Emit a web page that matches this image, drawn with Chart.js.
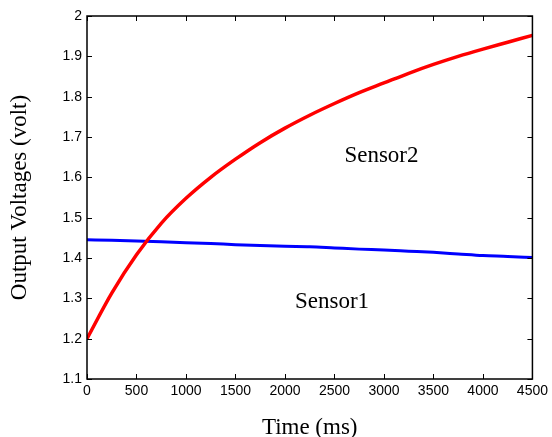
<!DOCTYPE html>
<html>
<head>
<meta charset="utf-8">
<script src="https://cdn.jsdelivr.net/npm/chart.js@4.4.1/dist/chart.umd.min.js"></script>
<style>
    html, body { margin: 0; padding: 0; background: #fff; }
    #chart { display: block; }
</style>
</head>
<body>
<canvas id="chart" width="552" height="437"></canvas>
<script>
// Sample times (ms)
const timeMs = [0, 250, 500, 750, 1000, 1250, 1500, 1750, 2000, 2250,
                2500, 2750, 3000, 3250, 3500, 3750, 4000, 4250, 4500];

// Sensor2 (red)
const sensor2 = [1.200, 1.313, 1.408, 1.486, 1.548, 1.600, 1.645, 1.686, 1.722, 1.754,
                 1.783, 1.810, 1.834, 1.858, 1.880, 1.900, 1.918, 1.935, 1.952];

// Sensor1 (blue)
const sensor1 = [1.445, 1.444, 1.442, 1.440, 1.438, 1.436, 1.433, 1.431, 1.429, 1.428,
                 1.425, 1.422, 1.420, 1.417, 1.414, 1.410, 1.406, 1.404, 1.401];

// Axis ticks
const xTicks = [0, 500, 1000, 1500, 2000, 2500, 3000, 3500, 4000, 4500];
const xTickLabels = ['0', '500', '1000', '1500', '2000', '2500', '3000', '3500', '4000', '4500'];
const yTicks = [1.1, 1.2, 1.3, 1.4, 1.5, 1.6, 1.7, 1.8, 1.9, 2.0];
const yTickLabels = ['1.1', '1.2', '1.3', '1.4', '1.5', '1.6', '1.7', '1.8', '1.9', '2'];

// Text labels inside the plot (data coordinates)
const curveNames = ['Sensor2', 'Sensor1'];
const curveNameAt = [[2975, 1.653], [2475, 1.291]];

const toPoints = ys => ys.map((v, i) => ({ x: timeMs[i], y: v }));

// Box with inward ticks, MATLAB style
const boxPlugin = {
    id: 'boxPlugin',
    afterDatasetsDraw(chart) {
        const { ctx, chartArea: a, scales: { x, y } } = chart;
        ctx.save();
        ctx.strokeStyle = '#000';
        ctx.lineWidth = 1;
        ctx.beginPath();
        xTicks.forEach(v => {
            const px = Math.round(x.getPixelForValue(v)) + 0.5;
            ctx.moveTo(px, a.bottom); ctx.lineTo(px, a.bottom - 5);
            ctx.moveTo(px, a.top); ctx.lineTo(px, a.top + 5);
        });
        yTicks.forEach(v => {
            const py = Math.round(y.getPixelForValue(v)) + 0.5;
            ctx.moveTo(a.left, py); ctx.lineTo(a.left + 5, py);
            ctx.moveTo(a.right, py); ctx.lineTo(a.right - 5, py);
        });
        ctx.stroke();
        ctx.lineWidth = 1.5;
        ctx.strokeRect(a.left, a.top, a.right - a.left, a.bottom - a.top);

        // Curve names
        ctx.fillStyle = '#000';
        ctx.font = '23px "Liberation Serif", "Times New Roman", serif';
        ctx.textAlign = 'center';
        ctx.textBaseline = 'middle';
        curveNames.forEach((name, i) => {
            ctx.fillText(name, x.getPixelForValue(curveNameAt[i][0]), y.getPixelForValue(curveNameAt[i][1]));
        });
        ctx.restore();
    }
};

const tickFont = { family: '"Liberation Sans", Arial, sans-serif', size: 14 };

new Chart(document.getElementById('chart').getContext('2d'), {
    type: 'line',
    data: {
        datasets: [{
            label: 'Sensor2',
            data: toPoints(sensor2),
            borderColor: '#ff0000',
            borderWidth: 3.5,
            pointRadius: 0,
            cubicInterpolationMode: 'monotone',
            fill: false
        }, {
            label: 'Sensor1',
            data: toPoints(sensor1),
            borderColor: '#0000ff',
            borderWidth: 3,
            pointRadius: 0,
            cubicInterpolationMode: 'monotone',
            fill: false
        }]
    },
    options: {
        responsive: false,
        animation: false,
        devicePixelRatio: 1,
        layout: { padding: { top: 16, right: 16, left: 0, bottom: 0 } },
        plugins: {
            legend: { display: false },
            tooltip: { enabled: false }
        },
        scales: {
            x: {
                type: 'linear',
                min: 0,
                max: 4500,
                grid: { display: false, drawTicks: false },
                border: { display: false },
                ticks: {
                    stepSize: 500,
                    color: '#000',
                    font: tickFont,
                    padding: 4,
                    maxRotation: 0,
                    autoSkip: false,
                    callback: (v, i) => xTickLabels[i]
                },
                title: {
                    display: true,
                    text: 'Time (ms)',
                    color: '#000',
                    font: { family: '"Liberation Serif", "Times New Roman", serif', size: 23, lineHeight: 0.8 },
                    padding: { top: 0, bottom: 0 }
                },
                afterFit: scale => { scale.height = 58; }
            },
            y: {
                type: 'linear',
                min: 1.1,
                max: 2.0,
                grid: { display: false, drawTicks: false },
                border: { display: false },
                ticks: {
                    stepSize: 0.1,
                    color: '#000',
                    font: tickFont,
                    padding: 5,
                    callback: (v, i) => yTickLabels[i]
                },
                title: {
                    display: true,
                    text: 'Output Voltages (volt)',
                    color: '#000',
                    font: { family: '"Liberation Serif", "Times New Roman", serif', size: 23 },
                    padding: { top: 6, bottom: 0 }
                },
                afterFit: scale => { scale.width = 87; }
            }
        }
    },
    plugins: [boxPlugin]
});
</script>
</body>
</html>
